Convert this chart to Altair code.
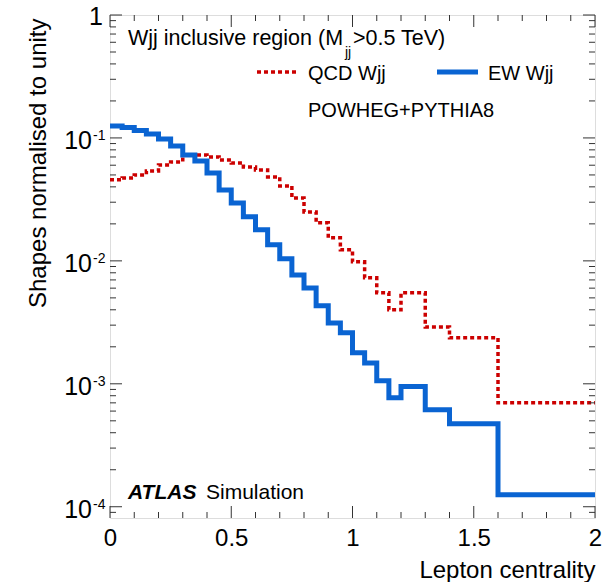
import altair as alt
import pandas as pd

# ---- data ----
edges = [0.0, 0.05, 0.1, 0.15, 0.2, 0.25, 0.3, 0.35, 0.4, 0.45, 0.5, 0.55, 0.6,
         0.65, 0.7, 0.75, 0.8, 0.85, 0.9, 0.95, 1.0, 1.05, 1.1, 1.15, 1.2, 1.3,
         1.4, 1.6, 2.0]
ew_wjj = [0.1252, 0.1217, 0.1151, 0.1078, 0.0981, 0.0861, 0.0728, 0.0650,
          0.0519, 0.0378, 0.0296, 0.0228, 0.0179, 0.0135, 0.0104, 0.00769,
          0.00603, 0.00431, 0.00313, 0.00260, 0.00179, 0.00148, 0.00106,
          0.00077, 0.00095, 0.000615, 0.000473, 0.000125]
qcd_wjj = [0.0456, 0.0473, 0.0500, 0.0539, 0.0603, 0.0638, 0.0728, 0.0728,
           0.0701, 0.0662, 0.0626, 0.0581, 0.0549, 0.0482, 0.0407, 0.0325,
           0.0250, 0.0204, 0.0154, 0.0123, 0.00982, 0.00728, 0.00550, 0.00400,
           0.00550, 0.00290, 0.00237, 0.000701]
x_tick_labels = [0, 0.5, 1, 1.5, 2]
y_decades = [1e-4, 1e-3, 1e-2, 1e-1]
y_decade_sup = ["-4", "-3", "-2", "-1"]


def step_frame(vals):
    xs = list(edges[:-1]) + [edges[-1]]
    ys = list(vals) + [vals[-1]]
    return pd.DataFrame({"x": xs, "y": ys})


df_ew = step_frame(ew_wjj)
df_qcd = step_frame(qcd_wjj)
df_dec = pd.DataFrame({"v": y_decades, "base": ["10"] * len(y_decades), "sup": y_decade_sup})
df_one = pd.DataFrame({"v": [1.0], "t": ["1"]})

W, H = 485, 503
RED = "#cc0000"
BLUE = "#0a64d2"
FONT = "Liberation Sans"
TICKC = "#333333"

xs = alt.Scale(domain=[0, 2], nice=False, zero=False)
ys = alt.Scale(type="log", domain=[8.1e-5, 1], nice=False)

x_major = [0, 0.5, 1, 1.5, 2]
x_minor = [round(0.1 * i, 1) for i in range(1, 20) if i % 5 != 0]
y_major = [1e-4, 1e-3, 1e-2, 1e-1, 1]
y_minor = [9e-5] + [m * 10.0 ** k for k in (-4, -3, -2, -1) for m in range(2, 10)]

df_xmaj = pd.DataFrame({"v": x_major})
df_xmin = pd.DataFrame({"v": x_minor})
df_ymaj = pd.DataFrame({"v": y_major})
df_ymin = pd.DataFrame({"v": y_minor})

qcd = alt.Chart(df_qcd).mark_line(
    interpolate="step-after", color=RED, strokeWidth=3.5, strokeDash=[4, 3]
).encode(
    x=alt.X("x:Q", scale=xs, axis=alt.Axis(
        orient="bottom", values=x_tick_labels, format="~g", ticks=False, tickSize=0,
        domain=False, grid=False, labelFontSize=24, labelPadding=27,
        labelBaseline="alphabetic", labelFlush=False, labelOverlap=False,
        labelColor="black", labelFont=FONT,
        title="Lepton centrality", titleFontSize=24, titleFontWeight="normal",
        titleFont=FONT, titleColor="black",
        titleAnchor="end", titleAlign="right", titleBaseline="alphabetic",
        titleX=W, titleY=59)),
    y=alt.Y("y:Q", scale=ys, axis=alt.Axis(
        orient="left", labels=False, ticks=False, domain=False, grid=False,
        title="Shapes normalised to unity", titleAngle=270, titleAlign="right",
        titleBaseline="alphabetic", titleX=-65, titleY=3, titleFontSize=24,
        titleFontWeight="normal", titleFont=FONT, titleColor="black")),
)

ew = alt.Chart(df_ew).mark_line(
    interpolate="step-after", color=BLUE, strokeWidth=5, strokeJoin="miter"
).encode(
    x=alt.X("x:Q", scale=xs, axis=None),
    y=alt.Y("y:Q", scale=ys, axis=None),
)


# frame ticks, pointing inwards on all four sides
def xticks(df, y0, y1):
    return alt.Chart(df).mark_rule(color=TICKC, strokeWidth=1).encode(
        x=alt.X("v:Q", scale=xs, axis=None), y=alt.value(y0), y2=alt.value(y1))


def yticks(df, x0, x1):
    return alt.Chart(df).mark_rule(color=TICKC, strokeWidth=1).encode(
        y=alt.Y("v:Q", scale=ys, axis=None), x=alt.value(x0), x2=alt.value(x1))


ticks = [
    xticks(df_xmaj, H, H - 12), xticks(df_xmin, H, H - 6),
    xticks(df_xmaj, 0, 12), xticks(df_xmin, 0, 6),
    yticks(df_ymaj, 0, 12), yticks(df_ymin, 0, 6),
    yticks(df_ymaj, W, W - 12), yticks(df_ymin, W, W - 6),
]

# y tick labels 10^k
lab_base = alt.Chart(df_dec).mark_text(
    align="right", baseline="alphabetic", fontSize=25, dy=11, font=FONT, color="black"
).encode(x=alt.value(-18), y=alt.Y("v:Q", scale=ys, axis=None), text="base:N")
lab_sup = alt.Chart(df_dec).mark_text(
    align="left", baseline="alphabetic", fontSize=14, dy=2, font=FONT, color="black"
).encode(x=alt.value(-17), y=alt.Y("v:Q", scale=ys, axis=None), text="sup:N")
lab_one = alt.Chart(df_one).mark_text(
    align="right", baseline="alphabetic", fontSize=25, dy=10, font=FONT, color="black"
).encode(x=alt.value(-7), y=alt.Y("v:Q", scale=ys, axis=None), text="t:N")


def txt(s, x, y, size=20, **kw):
    return alt.Chart().mark_text(
        text=s, align="left", baseline="alphabetic", fontSize=size, font=FONT,
        color="black", **kw
    ).encode(x=alt.value(x), y=alt.value(y))


header1 = txt("Wjj inclusive region (M", 18, 30, 21.5)
header_sub = txt("jj", 235, 42, 14)
header2 = txt(">0.5 TeV)", 243, 30, 21.5)
leg_q = txt("QCD Wjj", 198, 65, 20)
leg_e = txt("EW Wjj", 378, 65, 20)
gen = txt("POWHEG+PYTHIA8", 198, 102, 20)
atlas = txt("ATLAS", 18, 484, 21, fontStyle="italic", fontWeight="bold")
sim = txt("Simulation", 96, 484, 21)

leg_q_line = alt.Chart().mark_rule(color=RED, strokeWidth=3.5, strokeDash=[4, 3]).encode(
    x=alt.value(147), x2=alt.value(187), y=alt.value(57))
leg_e_line = alt.Chart().mark_rule(color=BLUE, strokeWidth=5).encode(
    x=alt.value(327), x2=alt.value(368), y=alt.value(57))

chart = alt.layer(
    qcd, ew, *ticks, lab_base, lab_sup, lab_one,
    header1, header_sub, header2, leg_q_line, leg_e_line, leg_q, leg_e, gen, atlas, sim,
).resolve_axis(x="independent", y="independent").properties(
    width=W, height=H,
    autosize=alt.AutoSizeParams(type="none"),
    padding={"left": 110, "top": 15, "right": 10, "bottom": 64},
    background="white",
).configure_view(stroke=TICKC, strokeWidth=1.2).configure(font=FONT)

chart.save("out.html", embed_options={"renderer": "svg", "actions": False})
